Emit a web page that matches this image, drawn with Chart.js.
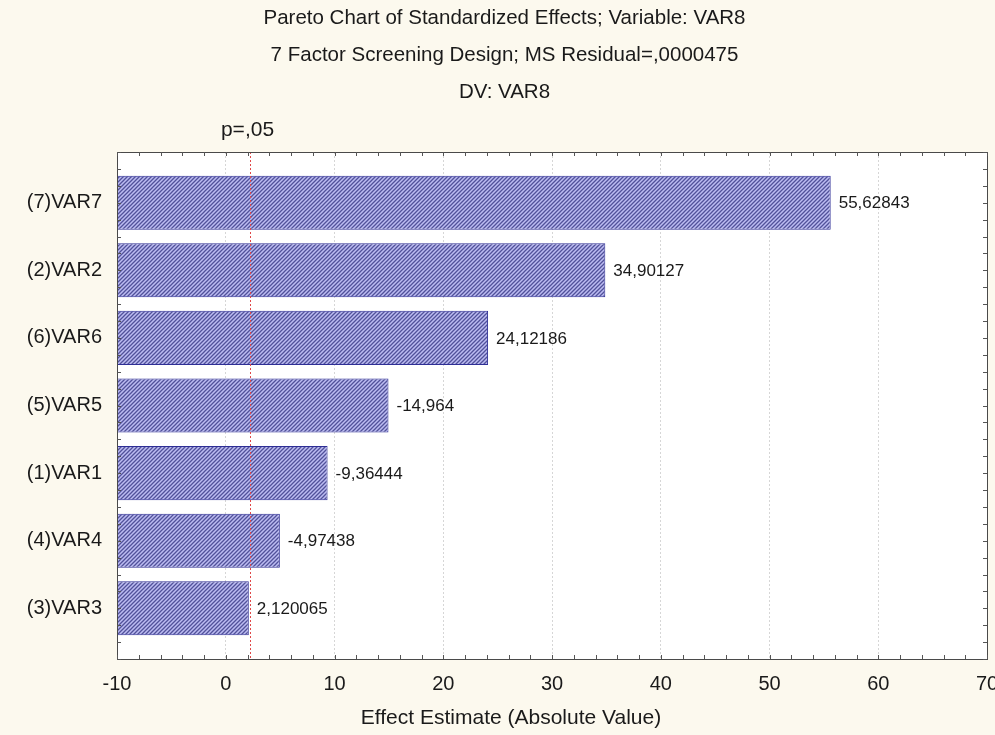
<!DOCTYPE html>
<html>
<head>
<meta charset="utf-8">
<script src="https://cdn.jsdelivr.net/npm/chart.js@4"></script>
<style>
  html, body { margin: 0; padding: 0; background: #fcf9ee; }
  #wrap { width: 995px; height: 735px; }
</style>
</head>
<body>
<div id="wrap"><canvas id="pareto"></canvas></div>
<script>
// data
const factors = ["(7)VAR7", "(2)VAR2", "(6)VAR6", "(5)VAR5", "(1)VAR1", "(4)VAR4", "(3)VAR3"];
const effects = [55.62843, 34.90127, 24.12186, -14.964, -9.36444, -4.97438, 2.120065];
const effectLabels = ["55,62843", "34,90127", "24,12186", "-14,964", "-9,36444", "-4,97438", "2,120065"];
const xMin = -10;
const xMax = 70;
const pValue = 2.2;
const pLabel = "p=,05";
const titleLines = [
  "Pareto Chart of Standardized Effects; Variable: VAR8",
  "7 Factor Screening Design; MS Residual=,0000475",
  "DV: VAR8"
];
const xTitle = "Effect Estimate (Absolute Value)";

const FONT = "Arial, 'Liberation Sans', sans-serif";

// hatch fill for the bars
function makeHatch() {
  const c = document.createElement("canvas");
  c.width = 4; c.height = 4;
  const g = c.getContext("2d");
  g.fillStyle = "#bcbcf2";
  g.fillRect(0, 0, 4, 4);
  g.strokeStyle = "#52529a";
  g.lineWidth = 1.3;
  g.beginPath();
  g.moveTo(-1, 5); g.lineTo(5, -1);
  g.moveTo(-1, 1); g.lineTo(1, -1);
  g.moveTo(3, 5); g.lineTo(5, 3);
  g.stroke();
  return g.createPattern(c, "repeat");
}

// white plot area, frame, inward ticks, p line, labels
const paretoDeco = {
  id: "paretoDeco",
  beforeDraw(chart) {
    const { ctx, chartArea: a } = chart;
    ctx.save();
    ctx.fillStyle = "#ffffff";
    ctx.fillRect(a.left, a.top, a.right - a.left, a.bottom - a.top);
    ctx.restore();
  },
  afterDatasetsDraw(chart) {
    const { ctx, chartArea: a, scales } = chart;
    const x = scales.x, y = scales.y;
    ctx.save();

    // p=,05 line
    const px = Math.round(x.getPixelForValue(pValue)) + 0.5;
    ctx.strokeStyle = "#e04848";
    ctx.lineWidth = 1;
    ctx.setLineDash([2, 2]);
    ctx.beginPath();
    ctx.moveTo(px, a.top); ctx.lineTo(px, a.bottom);
    ctx.stroke();
    ctx.setLineDash([]);

    ctx.fillStyle = "#1a1a1a";
    ctx.font = "21px " + FONT;
    ctx.textAlign = "center";
    ctx.textBaseline = "middle";
    ctx.fillText(pLabel, px - 3, 130);

    // x axis title (sits left of the plot centre in the original)
    ctx.font = "21px " + FONT;
    ctx.fillText(xTitle, 511, 718);

    // value labels right of bars
    ctx.font = "17px " + FONT;
    ctx.textAlign = "left";
    effects.forEach((v, i) => {
      const ex = x.getPixelForValue(Math.abs(v));
      const ey = y.getPixelForValue(i);
      ctx.fillText(effectLabels[i], ex + 8, ey + 1);
    });

    // frame
    ctx.strokeStyle = "#4a4a4a";
    ctx.lineWidth = 1;
    ctx.strokeRect(Math.round(a.left) + 0.5, Math.round(a.top) + 0.5,
      Math.round(a.right - a.left), Math.round(a.bottom - a.top));

    // inward minor ticks
    ctx.strokeStyle = "#555";
    ctx.beginPath();
    for (let v = xMin; v <= xMax; v += 2) {
      const tx = Math.round(x.getPixelForValue(v)) + 0.5;
      ctx.moveTo(tx, a.bottom); ctx.lineTo(tx, a.bottom - 4);
      ctx.moveTo(tx, a.top); ctx.lineTo(tx, a.top + 4);
    }
    for (let v = y.min; v <= y.max + 0.001; v += 0.25) {
      const ty = Math.round(y.getPixelForValue(v)) + 0.5;
      ctx.moveTo(a.left, ty); ctx.lineTo(a.left + 4, ty);
      ctx.moveTo(a.right, ty); ctx.lineTo(a.right - 4, ty);
    }
    ctx.stroke();
    ctx.restore();
  }
};

const ctx = document.getElementById("pareto");

new Chart(ctx, {
  type: "bar",
  data: {
    datasets: [{
      data: effects.map((v, i) => ({ y: i, x: [xMin, Math.abs(v)] })),
      backgroundColor: makeHatch(),
      borderColor: "#2e2e96",
      borderWidth: 1,
      borderSkipped: false,
      barPercentage: 0.8,
      categoryPercentage: 1
    }]
  },
  plugins: [paretoDeco],
  options: {
    indexAxis: "y",
    responsive: true,
    maintainAspectRatio: false,
    animation: false,
    layout: { padding: { left: 22, right: 8, top: 0, bottom: 0 } },
    plugins: {
      legend: { display: false },
      tooltip: { enabled: false },
      title: {
        display: true,
        text: titleLines,
        color: "#1a1a1a",
        font: { family: FONT, size: 20.5, weight: "normal", lineHeight: 1.8 },
        padding: { top: 0, bottom: 41.3 }
      }
    },
    scales: {
      x: {
        type: "linear",
        min: xMin,
        max: xMax,
        ticks: {
          stepSize: 10,
          color: "#1a1a1a",
          padding: 13,
          font: { family: FONT, size: 20 }
        },
        grid: {
          drawTicks: false,
          color: (c) => (c.tick && c.tick.value > xMin && c.tick.value < xMax) ? "#d6d6d6" : "rgba(0,0,0,0)"
        },
        border: { display: false, dash: [2, 2] },
        afterFit(s) { s.height = 76; s.paddingLeft = 0; s.paddingRight = 0; }
      },
      y: {
        type: "linear",
        reverse: true,
        offset: false,
        min: -0.75,
        max: 6.75,
        afterBuildTicks(s) { s.ticks = factors.map((f, i) => ({ value: i })); },
        ticks: {
          autoSkip: false,
          color: "#1a1a1a",
          padding: 15,
          font: { family: FONT, size: 20 },
          callback: (v) => factors[v] ?? ""
        },
        grid: { display: false, drawTicks: false, offset: false },
        border: { display: false },
        afterFit(s) { s.width = 95; s.paddingTop = 0; s.paddingBottom = 0; }
      }
    }
  }
});
</script>
</body>
</html>
